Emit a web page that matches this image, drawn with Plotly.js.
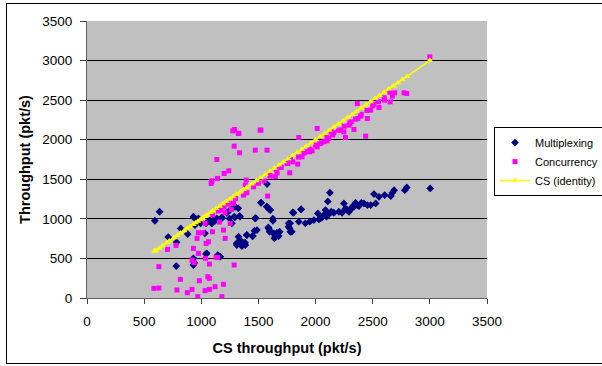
<!DOCTYPE html>
<html><head><meta charset="utf-8">
<script src="https://cdn.plot.ly/plotly-3.0.1.min.js"></script>
<style>
html,body{margin:0;padding:0;background:#fff;overflow:hidden;}
#wrap{position:relative;width:602px;height:366px;overflow:hidden;}
#frame{position:absolute;left:6px;top:3px;width:620px;height:359px;border:1px solid #000;pointer-events:none;}
</style></head>
<body><div id="wrap"><div id="chart" style="width:640px;height:366px;"></div><div id="frame"></div></div>
<script>
var muxX = [594,635,711,781,784,820,881,931,945,975,931,940,931,1042,995,1042,1077,1092,1121,1136,1150,1165,1180,1223,1247,1268,1288,1297,1335,1311,1326,1341,1311,1355,1385,1399,1452,1470,1487,1522,1575,1575,1604,1589,1598,1627,1633,1648,1663,1677,1686,1765,1774,1780,1800,1853,1873,1911,1949,1985,2020,2029,2043,2058,2072,2087,2096,2107,2125,2116,2137,2160,2204,2233,2248,2262,2277,2292,2306,2321,2336,2350,2365,2380,2400,2423,2453,2482,2511,2526,2555,2605,2658,2672,2687,2781,2798,3003,1523,1573,1594,1477,1626,1807,1874,1778,1398,1465,1447,1310,1354,1383,1587,1602,1646,1661,1640,1763,1792,1047,1144,1164,1105,1179,1295,1339,1289,1324,1251,1032,1091,945];
var muxY = [976,1090,770,404,703,879,808,1027,1006,1006,501,446,417,555,943,943,985,943,976,1006,534,522,1018,1077,1006,943,1027,1153,1035,690,774,732,669,656,669,795,783,1006,858,1203,1439,1153,1111,879,837,976,816,774,808,783,837,943,879,837,1081,964,1119,943,964,985,1069,993,1006,1018,1048,1111,1027,1220,1330,1060,1090,1077,1090,1077,1195,1132,1111,1090,1119,1153,1153,1203,1174,1161,1203,1195,1174,1174,1313,1195,1279,1300,1288,1330,1363,1363,1397,1384,1204,1154,1120,1010,1002,1077,1120,943,796,850,783,691,669,698,893,850,796,825,754,901,838,565,543,522,985,1006,1019,1027,1153,1133,1111,817,943,922];

var conX = [585,629,629,705,779,817,787,878,919,919,931,937,963,975,975,969,983,1013,1036,1033,1042,1063,1071,1057,1071,1033,1071,1098,1121,1130,1141,1159,1171,1180,1194,1194,1209,1086,1092,1136,1141,1200,1241,1276,1291,1288,1329,1335,1288,1253,1262,1223,1209,1282,1300,1370,1393,1385,1399,1458,1472,1522,1575,1581,1604,1648,1663,1657,1774,1756,1780,1844,1853,1882,1911,1949,1970,2014,2014,2037,2072,2101,2116,2137,2160,2218,2248,2262,2292,2312,2336,2365,2371,2394,2438,2453,2482,2511,2555,2605,2652,2672,2693,2774,2798,3000,1100,1150,1200,1250,1500,1550,1600,1700,1750,1800,1850,1900,1950,2000,2050,2100,2150,2200,2250,2300,2350,2400,2450,2500,2550,2600,2650,1324,1515,1091,1144];
var conY = [122,126,396,614,665,236,101,67,109,480,627,446,753,564,825,17,219,825,501,943,690,711,429,269,248,93,109,837,143,513,513,959,1111,17,173,858,753,1448,1481,1750,1510,1574,1607,2112,2129,1919,2079,1835,417,943,1119,1187,1077,1195,1258,1300,1490,1426,1330,1405,1868,2121,1868,1288,1540,1532,1582,1624,1582,1700,1763,1692,2028,1784,1847,1847,1860,2142,1910,1952,1974,1986,2016,2100,2087,2121,2100,2028,2184,2226,2129,2457,2268,2298,2045,2268,2373,2449,2407,2500,2478,2550,2592,2592,2584,3047,1050,1100,1150,1200,1450,1480,1550,1650,1700,1720,1780,1830,1880,1930,1960,2030,2060,2120,2170,2210,2260,2320,2370,2430,2480,2530,2600,2080,2122,1469,1512];

var csX = [590,600,630,660,700,720,760,790,820,850,880,900,930,950,970,990,1010,1030,1050,1080,1100,1130,1160,1190,1220,1250,1280,1310,1340,1370,1400,1440,1480,1520,1560,1600,1640,1680,1720,1760,1800,1840,1880,1920,1960,2000,2040,2080,2120,2160,2200,2240,2280,2320,2360,2400,2440,2480,2520,2560,2600,2640,2680,2720,2760,2800,3000];
var csY = [590,600,630,660,700,720,760,790,820,850,880,900,930,950,970,990,1010,1030,1050,1080,1100,1130,1160,1190,1220,1250,1280,1310,1340,1370,1400,1440,1480,1520,1560,1600,1640,1680,1720,1760,1800,1840,1880,1920,1960,2000,2040,2080,2120,2160,2200,2240,2280,2320,2360,2400,2440,2480,2520,2560,2600,2640,2680,2720,2760,2800,3000];

var tickVals = [0,500,1000,1500,2000,2500,3000,3500];
var tickText = ['0','500','1000','1500','2000','2500','3000','3500'];

var traces = [
  {x: muxX, y: muxY, mode: 'markers', type: 'scatter', name: 'Multiplexing',
   marker: {symbol: 'diamond', size: 6, color: '#000080'}},
  {x: conX, y: conY, mode: 'markers', type: 'scatter', name: 'Concurrency',
   marker: {symbol: 'square', size: 5, color: '#FF00FF'}},
  {x: csX, y: csY, mode: 'lines+markers', type: 'scatter', name: 'CS (identity)',
   line: {color: '#FFFF00', width: 1.5},
   marker: {symbol: 'triangle-up', size: 6, color: '#FFFF00'}}
];

var fam = 'Liberation Sans, Arial, sans-serif';
var axisFont = {family: fam, size: 13.5, color: '#000'};
var titleFont = {family: fam, size: 14.5, color: '#000', weight: 'bold'};
var layout = {
  width: 640, height: 366,
  margin: {l: 87, r: 153, t: 21, b: 68, pad: 0},
  paper_bgcolor: '#FFFFFF',
  plot_bgcolor: '#C0C0C0',
  font: axisFont,
  showlegend: true,
  legend: {x: 1.0175, y: 0.617, xanchor: 'left', yanchor: 'top',
    bgcolor: '#FFFFFF', bordercolor: '#000', borderwidth: 1,
    font: {family: fam, size: 11, color: '#000'},
    tracegroupgap: 0, itemwidth: 30},
  xaxis: {range: [0, 3500], tickvals: tickVals, ticktext: tickText,
    showgrid: false, zeroline: false, showline: true, linecolor: '#606060', linewidth: 1,
    ticks: 'outside', ticklen: 5, tickcolor: '#404040', tickfont: axisFont,
    ticklabelstandoff: 6,
    title: {text: 'CS throughput (pkt/s)', font: titleFont, standoff: 14}},
  yaxis: {range: [0, 3500], tickvals: tickVals, ticktext: tickText,
    showgrid: true, gridcolor: '#000000', gridwidth: 1, zeroline: false,
    showline: true, linecolor: '#606060', linewidth: 1,
    ticks: 'outside', ticklen: 6, tickcolor: '#404040', tickfont: axisFont,
    ticklabelstandoff: 5,
    title: {text: 'Throughput (pkt/s)', font: titleFont, standoff: 8}}
};
Plotly.newPlot('chart', traces, layout, {displayModeBar: false, staticPlot: true});
</script></body></html>
